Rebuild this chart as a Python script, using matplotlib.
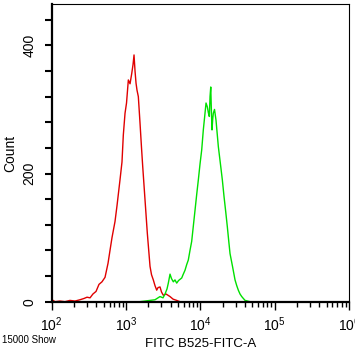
"""
Flow cytometry overlay histogram: FITC B525-FITC-A, control (red) vs stained (green).
"""

import matplotlib

matplotlib.use("Agg")
import matplotlib.pyplot as plt  # noqa: E402
from matplotlib.ticker import FuncFormatter, LogLocator, MultipleLocator, NullFormatter  # noqa: E402

plt.rcParams["font.family"] = ["Liberation Sans", "DejaVu Sans"]
plt.rcParams["mathtext.default"] = "regular"

# Control peak (red): fluorescence intensity and event count
RED_FITC = [101, 111, 129, 151, 176, 206, 240, 272, 299, 328, 359, 395, 433, 475,
            522, 573, 609, 648, 711, 757, 830, 883, 920, 970, 1016, 1075, 1133,
            1194, 1243, 1282, 1322, 1364, 1406, 1465, 1543, 1617, 1678, 1802, 1935,
            2105, 2205, 2330, 2455, 2588, 2697, 2868, 3006, 3178, 3454, 3910, 4293,
            4810, 5330]
RED_COUNT = [3, 0, 1, 0, 2, 1, 3, 5, 7, 6, 12, 16, 27, 31,
             38, 60, 80, 100, 125, 150, 190, 218, 260, 294, 310, 346, 340,
             356, 370, 385, 360, 341, 330, 320, 279, 240, 211, 159, 107,
             55, 42, 34, 25, 18, 22, 23, 15, 10, 12, 8, 4,
             2, 0]

# Stained peak (green)
GREEN_FITC = [1543, 2105, 2455, 2868, 3148, 3350, 3564, 3710, 3910, 4094, 4333, 4560,
              4810, 5090, 5620, 5850, 6220, 6560, 6890, 7260, 7650, 8050, 8490, 8950,
              9400, 9910, 10440, 10970, 11560, 11930, 12420, 12820, 13220, 13510,
              13810, 14070, 14360, 14680, 14960, 15520, 16260, 16780, 17470, 18820,
              19780, 20840, 21980, 23080, 24100, 25100, 27110, 29300, 30900, 32450,
              34200, 36060, 37920, 39990, 46680]
GREEN_COUNT = [0, 2, 3, 8, 6, 12, 20, 29, 43, 36, 31, 34,
               29, 33, 37, 42, 49, 58, 65, 80, 94, 118, 143, 168,
               190, 215, 237, 268, 294, 310, 304, 295, 289, 320,
               335, 300, 268, 285, 294, 300, 283, 265, 242, 211,
               190, 164, 140, 117, 95, 75, 55, 34, 25, 18,
               12, 8, 5, 2, 0]

Y_LABELS = {0: "0", 200: "200", 400: "400"}

fig = plt.figure(figsize=(3.55, 3.51), dpi=100)
ax = fig.add_axes([0.1456, 0.1405, 0.8374, 0.8472])

ax.plot(RED_FITC, RED_COUNT, color="#e00000", linewidth=1.0)
ax.plot(GREEN_FITC, GREEN_COUNT, color="#00e000", linewidth=1.0)

ax.set_xscale("log")
ax.set_xlim(1e2, 1e6)
ax.set_ylim(0, 464)

ax.xaxis.set_major_locator(LogLocator(base=10))
ax.xaxis.set_minor_locator(LogLocator(base=10, subs=range(2, 10)))
ax.xaxis.set_minor_formatter(NullFormatter())

ax.yaxis.set_major_locator(MultipleLocator(40))
ax.yaxis.set_major_formatter(FuncFormatter(lambda v, _: Y_LABELS.get(int(round(v)), "")))

ax.tick_params(axis="x", which="major", length=6, width=1, labelsize=10, pad=4)
ax.tick_params(axis="x", which="minor", length=3.5, width=1)
ax.tick_params(axis="y", which="major", length=5, width=1.5, labelsize=10, pad=6)
for lab in ax.get_yticklabels():
    lab.set_rotation(90)
    lab.set_va("center")

for side in ("left", "bottom"):
    ax.spines[side].set_linewidth(1.6)
for side in ("top", "right"):
    ax.spines[side].set_linewidth(0.8)

ax.set_xlabel("FITC B525-FITC-A", fontsize=9.5, labelpad=3)
ax.set_ylabel("Count", fontsize=10, labelpad=4)

fig.text(0.006, 0.031, "15000 Show", fontsize=7, ha="left", va="center")

fig.savefig("out.png", dpi=100, facecolor="white")
